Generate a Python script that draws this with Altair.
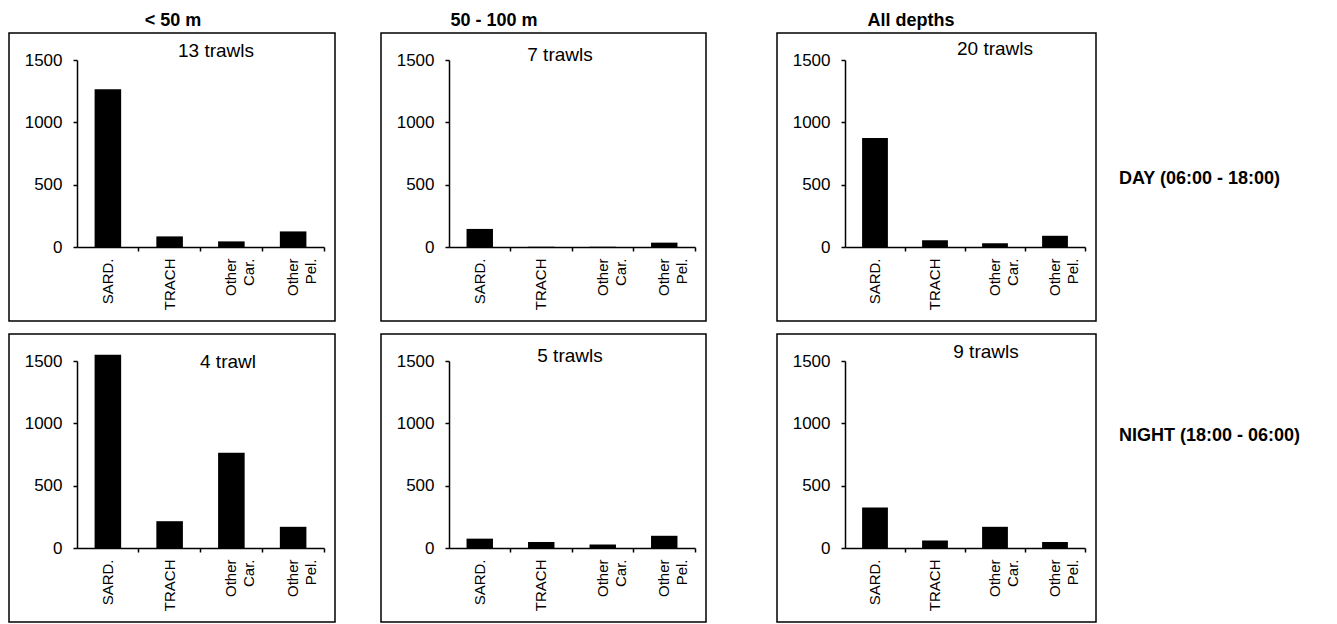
import altair as alt
import pandas as pd

# ---------------- data ----------------
categories = ["SARD.", "TRACH", "Other Car.", "Other Pel."]
depth_titles = ["< 50 m", "50 - 100 m", "All depths"]
period_titles = ["DAY (06:00 - 18:00)", "NIGHT (18:00 - 06:00)"]
day_trawls = ["13 trawls", "7 trawls", "20 trawls"]
night_trawls = ["4 trawl", "5 trawls", "9 trawls"]

day_lt50 = [1265, 85, 45, 125]
day_50_100 = [145, 2, 2, 35]
day_all = [875, 55, 30, 90]
night_lt50 = [1550, 215, 765, 170]
night_50_100 = [75, 48, 28, 98]
night_all = [325, 60, 170, 48]

y_ticks = [0, 500, 1000, 1500]

# ---------------- layout / style ----------------
FONT = "Liberation Sans"
PLOT_H = 187
COL_W = [247, 246, 240]
BOX_L, BOX_R, BOX_T, BOX_B = -68, 11, -27, 74
TITLE_POS = [[(139, -9), (111, -5), (150, -11)],
             [(151, 1), (121, -5), (141, -9)]]
COL_TITLE_X = [96, 45, 66]
COL_TITLE_Y = -39
ROW_LABEL_DX = 34
ROW_LABEL_Y = [119, 75]

one = pd.DataFrame({"k": [0]})


def panel(values, trawl, row, col):
    w = COL_W[col]
    df = pd.DataFrame({"cat": categories, "val": values})
    bars = alt.Chart(df).mark_bar(color="black", width=alt.RelativeBandSize(0.43)).encode(
        x=alt.X("cat:N", sort=categories,
                scale=alt.Scale(paddingInner=0, paddingOuter=0),
                axis=alt.Axis(title=None, labelAngle=-90, labelAlign="right",
                              labelBaseline="middle",
                              labelExpr="split(datum.label, ' ')",
                              labelFontSize=15, labelLineHeight=18,
                              labelPadding=7, bandPosition=1, tickSize=4)),
        y=alt.Y("val:Q", scale=alt.Scale(domain=[0, 1500], nice=False, zero=True),
                axis=alt.Axis(title=None, values=y_ticks, format="d", labelFontSize=17,
                              labelPadding=11, tickSize=4)),
    )
    box = alt.Chart(one).mark_rect(fillOpacity=0, stroke="black", strokeWidth=1.5).encode(
        x=alt.value(BOX_L), x2=alt.value(w + BOX_R),
        y=alt.value(BOX_T), y2=alt.value(PLOT_H + BOX_B))
    tx, ty = TITLE_POS[row][col]
    title = alt.Chart(one).mark_text(text=trawl, font=FONT, fontSize=19, color="black",
                                     align="center", baseline="middle").encode(
        x=alt.value(tx), y=alt.value(ty))
    layers = [box, bars, title]
    if row == 0:
        ct = alt.Chart(one).mark_text(text=depth_titles[col], font=FONT, fontSize=18,
                                      fontWeight="bold", color="black",
                                      align="center", baseline="middle").encode(
            x=alt.value(COL_TITLE_X[col]), y=alt.value(COL_TITLE_Y))
        layers.append(ct)
    if col == 2:
        rl = alt.Chart(one).mark_text(text=period_titles[row], font=FONT, fontSize=18,
                                      fontWeight="bold", color="black",
                                      align="left", baseline="middle").encode(
            x=alt.value(w + ROW_LABEL_DX), y=alt.value(ROW_LABEL_Y[row]))
        layers.append(rl)
    return alt.layer(*layers).properties(width=w, height=PLOT_H)


top = alt.hconcat(
    alt.hconcat(panel(day_lt50, day_trawls[0], 0, 0),
                panel(day_50_100, day_trawls[1], 0, 1), spacing=44),
    panel(day_all, day_trawls[2], 0, 2), spacing=69)
bottom = alt.hconcat(
    alt.hconcat(panel(night_lt50, night_trawls[0], 1, 0),
                panel(night_50_100, night_trawls[1], 1, 1), spacing=44),
    panel(night_all, night_trawls[2], 1, 2), spacing=69)

chart = alt.vconcat(top, bottom, spacing=11).properties(
    padding={"top": 4, "left": 0, "right": 0, "bottom": 0}, background="white"
).configure_axis(
    domainColor="black", domainWidth=1.5, tickColor="black", tickWidth=1.5,
    labelColor="black", labelFont=FONT, grid=False
).configure_view(strokeWidth=0)

chart.save("out.html", embed_options={"renderer": "svg", "actions": False})
